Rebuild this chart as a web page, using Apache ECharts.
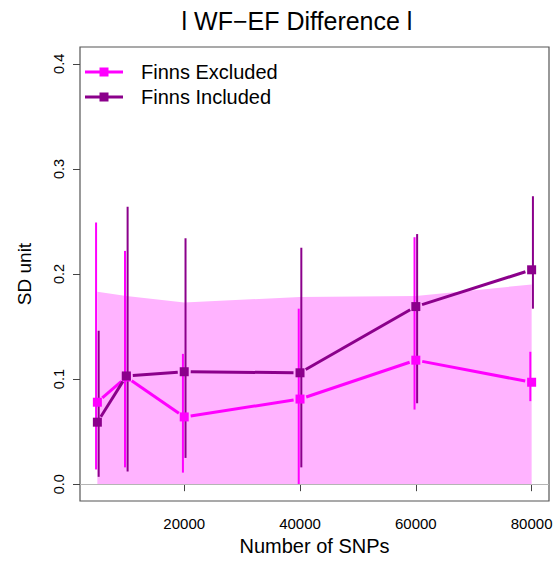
<!DOCTYPE html>
<html><head><meta charset="utf-8">
<script src="https://cdn.jsdelivr.net/npm/echarts@6/dist/echarts.min.js"></script>
<style>html,body{margin:0;padding:0;background:#fff}#c{width:554px;height:568px}</style>
</head><body><div id="c"></div>
<script>
// ---- data ----
const snps = [5000, 10000, 20000, 40000, 60000, 80000];
const excludedMean = [0.078, 0.102, 0.064, 0.081, 0.118, 0.097];
const excludedLow  = [0.014, 0.016, 0.011, 0.000, 0.071, 0.079];
const excludedHigh = [0.249, 0.222, 0.124, 0.167, 0.235, 0.126];
const includedMean = [0.059, 0.103, 0.107, 0.106, 0.169, 0.204];
const includedLow  = [0.007, 0.012, 0.025, 0.016, 0.077, 0.167];
const includedHigh = [0.146, 0.264, 0.234, 0.225, 0.238, 0.274];
const bandUpper    = [0.183, 0.179, 0.173, 0.178, 0.179, 0.190];
const xTicks = [20000, 40000, 60000, 80000];
const yTicks = [0, 0.1, 0.2, 0.3, 0.4];
const seriesNames = ['Finns Excluded', 'Finns Included'];

const colExcl = '#FF00FF', colIncl = '#8B008B', colBand = '#FFB3FF';
const FONT = '"Liberation Sans", Arial, Helvetica, sans-serif';

const chart = echarts.init(document.getElementById('c'), null, {renderer: 'svg'});

function errRender(offset, color) {
  return function (params, api) {
    const x = api.value(0);
    const p1 = api.coord([x, api.value(1)]);
    const p2 = api.coord([x, api.value(2)]);
    return {type: 'line', shape: {x1: p1[0] + offset, y1: p1[1], x2: p2[0] + offset, y2: p2[1]},
            style: {stroke: color, lineWidth: 2}};
  };
}
function lineRender(means, color) {
  return function (params, api) {
    const i = params.dataIndex;
    const p = api.coord([api.value(0), api.value(1)]);
    const children = [];
    if (i < snps.length - 1) {
      const q = api.coord([snps[i + 1], means[i + 1]]);
      const dx = q[0] - p[0], dy = q[1] - p[1], len = Math.hypot(dx, dy);
      const g = 6.5;
      if (len > 2 * g) {
        children.push({type: 'line', shape: {x1: p[0] + dx / len * g, y1: p[1] + dy / len * g,
          x2: q[0] - dx / len * g, y2: q[1] - dy / len * g}, style: {stroke: color, lineWidth: 3}});
      }
    }
    children.push({type: 'rect', shape: {x: p[0] - 4.5, y: p[1] - 4.5, width: 9, height: 9}, style: {fill: color}});
    return {type: 'group', children};
  };
}

const iconPath = 'path://M0,3.5h38v3h-38z M14.5,0.5h9v9h-9z';

const option = {
  animation: false,
  backgroundColor: '#fff',
  title: {
    text: 'l WF\u2212EF Difference l',
    left: 297, top: 8, textAlign: 'center', padding: 0,
    textStyle: {fontFamily: FONT, fontSize: 25, fontWeight: 'normal', color: '#000'}
  },
  legend: {
    orient: 'vertical', left: 85, top: 62, padding: 0,
    itemWidth: 38, itemHeight: 10, itemGap: 5,
    data: seriesNames.map(n => ({name: n, icon: iconPath})),
    textStyle: {fontFamily: FONT, fontSize: 20, color: '#000', lineHeight: 20, padding: [0, 0, 0, 13]}
  },
  grid: {left: 80, top: 47, right: 5, bottom: 67, show: true, borderColor: '#555', borderWidth: 1.2,
         backgroundColor: 'transparent', outerBoundsMode: 'none', containLabel: false},
  xAxis: {
    type: 'value', min: 2000, max: 83000,
    name: 'Number of SNPs', nameLocation: 'middle', nameGap: 35,
    nameTextStyle: {fontFamily: FONT, fontSize: 20, color: '#000'},
    axisLine: {show: false},
    axisTick: {show: true, customValues: xTicks, length: 7, lineStyle: {color: '#444'}},
    axisLabel: {customValues: xTicks, fontFamily: FONT, fontSize: 15, color: '#000', margin: 15,
                formatter: v => String(v)},
    splitLine: {show: false}
  },
  yAxis: {
    type: 'value', min: -0.016, max: 0.416,
    name: 'SD unit', nameLocation: 'middle', nameGap: 46,
    nameTextStyle: {fontFamily: FONT, fontSize: 19, color: '#000'},
    axisLine: {show: false},
    axisTick: {show: true, customValues: yTicks, length: 7, lineStyle: {color: '#444'}},
    axisLabel: {customValues: yTicks, rotate: 90, fontFamily: FONT, fontSize: 14.5, color: '#000', margin: 14,
                formatter: v => v.toFixed(1)},
    splitLine: {show: false}
  },
  series: [
    {
      name: 'band', type: 'line', silent: true, symbol: 'none',
      data: snps.map((x, i) => [x, bandUpper[i]]),
      lineStyle: {width: 0}, itemStyle: {color: colBand},
      areaStyle: {color: colBand, opacity: 1},
      markLine: {silent: true, symbol: 'none', label: {show: false},
                 lineStyle: {color: '#b5b5b5', width: 1, type: 'solid'}, data: [{yAxis: 0}]},
      z: 1
    },
    {
      name: 'Finns Excluded err', type: 'custom', silent: true,
      data: snps.map((x, i) => [x, excludedLow[i], excludedHigh[i]]),
      renderItem: errRender(-1.3, colExcl), itemStyle: {color: colExcl}, z: 2
    },
    {
      name: 'Finns Included err', type: 'custom', silent: true,
      data: snps.map((x, i) => [x, includedLow[i], includedHigh[i]]),
      renderItem: errRender(1.3, colIncl), itemStyle: {color: colIncl}, z: 2
    },
    {
      name: seriesNames[0], type: 'custom', silent: true,
      data: snps.map((x, i) => [x, excludedMean[i]]),
      renderItem: lineRender(excludedMean, colExcl), itemStyle: {color: colExcl}, z: 3
    },
    {
      name: seriesNames[1], type: 'custom', silent: true,
      data: snps.map((x, i) => [x, includedMean[i]]),
      renderItem: lineRender(includedMean, colIncl), itemStyle: {color: colIncl}, z: 4
    }
  ]
};
chart.setOption(option);
</script>
</body></html>
